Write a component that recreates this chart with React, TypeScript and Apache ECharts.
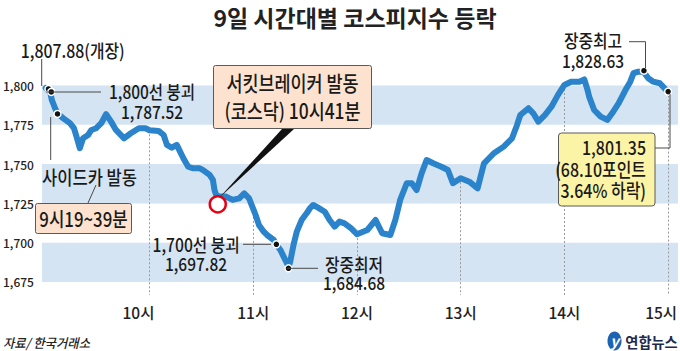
import React, { useEffect, useRef } from 'react';
import * as echarts from 'echarts';

// minutes after 09:00
const timeMinutes = [
  0, 2.6, 3.5, 5.4, 6.8, 10.2, 14.0, 16.3, 17.8, 19.7, 21.6, 24.5, 26.4, 29.2, 32.1, 34.9, 37.8, 40.6, 45.3, 49.2,
  53.9, 57.7, 60, 65.3, 68.2, 70.1, 72.9, 75.8, 77.7, 79.6, 82.4, 85.3, 89.1, 91.0, 94.8, 96.7, 97.6, 98.6, 100.5, 104.3,
  108.1, 111.9, 114.8, 117.6, 120, 121.4, 123.3, 126.1, 128.0, 131.9, 133.4, 135.7, 137.6, 139.5, 140.4, 141.4, 143.3, 145.2, 148.0, 150.9,
  152.8, 154.7, 157.5, 161.4, 164.2, 167.1, 169.9, 172.8, 176.5, 180, 186.0, 190.8, 194.6, 199.3, 202.2, 205.0, 208.8, 211.7, 214.5, 217.4,
  220.3, 224.1, 228.8, 232.6, 235.5, 240, 245.0, 249.8, 253.5, 259.2, 264.9, 269.7, 272.6, 274.5, 279.2, 282.0, 284.9, 288.7, 292.5, 296.3,
  300, 303.9, 308.7, 311.5, 313.4, 314.3, 317.2, 321.0, 324.8, 327.6, 331.4, 335.3, 338.1, 340.0, 342.8, 345.7, 348.5, 351.4, 355.2, 358.0, 360,
];
const indexValues = [
  1798.4, 1795.7, 1790.8, 1785.5, 1782.2, 1779.1, 1776.0, 1772.8, 1767.4, 1760.1, 1766.4, 1768.5, 1771.7, 1772.8, 1776.0, 1781.7, 1777.0, 1771.7, 1766.4, 1769.6,
  1772.8, 1772.8, 1771.5, 1771.1, 1768.5, 1762.2, 1760.4, 1762.2, 1757.9, 1753.7, 1748.3, 1747.3, 1747.3, 1746.2, 1743.1, 1739.9, 1733.5, 1730.3, 1729.3, 1729.3,
  1727.2, 1728.2, 1731.4, 1728.2, 1721.5, 1717.6, 1711.3, 1707.0, 1704.9, 1701.7, 1699.0, 1695.4, 1691.1, 1686.9, 1684.5, 1687.9, 1698.5, 1707.0, 1714.4, 1718.7,
  1721.9, 1724.0, 1722.3, 1719.7, 1714.4, 1710.2, 1713.4, 1712.3, 1709.2, 1705.4, 1708.1, 1714.4, 1706.0, 1704.9, 1714.4, 1727.2, 1737.8, 1737.8, 1733.5, 1744.1,
  1752.6, 1750.5, 1748.3, 1746.2, 1737.8, 1741.0, 1738.8, 1734.6, 1750.5, 1756.9, 1761.1, 1766.4, 1774.9, 1781.2, 1785.5, 1782.3, 1777.0, 1781.2, 1786.5, 1794.0,
  1800.3, 1802.4, 1802.4, 1803.8, 1797.1, 1792.9, 1784.4, 1780.2, 1778.1, 1782.3, 1788.7, 1797.1, 1802.4, 1807.8, 1808.8, 1808.8, 1804.6, 1802.4, 1801.4, 1798.2, 1796.1,
];
const hourTicks = [60, 120, 180, 240, 300, 360];
const hourLabels = ['10시', '11시', '12시', '13시', '14시', '15시'];
const yLabelTicks = [1675, 1700, 1725, 1750, 1775, 1800];
const bandRanges = [[1675, 1700], [1725, 1750], [1775, 1800]];
const keyPointTimes = [1.6, 3.2, 6.8, 133.4, 140.4, 346, 360];
const keyPointValues = [1797.8, 1795.9, 1781.9, 1699.0, 1683.7, 1809.4, 1796.1];
const breakerTime = 99.5;
const breakerValue = 1724.4;
const dropBottom = 1666.7;

const FONT = "'Noto Sans CJK KR', 'Noto Sans', sans-serif";
const INK = '#1a1a1a';
const LEAD = '#4a4a4a';
const W = 500;

function txt(text: string, x: number, y: number, o: any = {}) {
  const align = o.align || 'center';
  return {
    type: 'text',
    x,
    y,
    scaleX: o.sx ?? 0.88,
    z: 100,
    style: {
      text,
      fill: o.fill || INK,
      fontSize: o.fs ?? 18,
      fontFamily: o.ff || FONT,
      fontWeight: o.fw || W,
      fontStyle: o.fst || 'normal',
      align,
      textAlign: align,
      verticalAlign: 'middle',
      textVerticalAlign: 'middle',
    },
  };
}
function seg(points: number[][]) {
  return {
    type: 'polyline',
    z: 99,
    shape: { points },
    style: { stroke: LEAD, lineWidth: 1, fill: null },
  };
}
function box(x: number, y: number, w: number, h: number, fill: string, r = 2) {
  return {
    type: 'rect',
    z: 98,
    shape: { x, y, width: w, height: h, r },
    style: { fill, stroke: '#5a5a5a', lineWidth: 1 },
  };
}

export default function App() {
  const ref = useRef<HTMLDivElement>(null);
  useEffect(() => {
    document.body.style.margin = '0';
    if (!ref.current) return;
    const chart = echarts.init(ref.current, null, { renderer: 'svg' });
    const seriesData = timeMinutes.map((t, i) => [t, indexValues[i]]);
    const valueAt = (t: number) => indexValues[timeMinutes.indexOf(t)];
    const PEACH = '#fde3cf';
    const YELLOW = '#fbf3a6';

    chart.setOption({
      animation: false,
      backgroundColor: '#ffffff',
      title: {
        text: '9일 시간대별 코스피지수 등락',
        left: 350,
        textAlign: 'center',
        top: 0,
        textStyle: { fontSize: 23, fontWeight: 'bold', fontFamily: FONT, color: '#222' },
      },
      grid: { left: 35, right: 0, top: 38.3, bottom: 29.7, containLabel: false },
      xAxis: {
        type: 'value',
        min: -2.2,
        max: 365.7,
        axisLine: { show: false },
        axisTick: { show: false },
        splitLine: { show: false },
        axisLabel: {
          customValues: hourTicks,
          margin: -17,
          fontSize: 15.5,
          fontWeight: W,
          fontFamily: FONT,
          color: '#222',
          formatter: (v: number) => {
            const i = hourTicks.indexOf(v);
            if (i < 0) return '';
            if (v === 60) return '{a|' + hourLabels[i] + '}';
            if (v === 360) return '{b|' + hourLabels[i] + '}';
            return hourLabels[i];
          },
          rich: {
            a: { fontSize: 15.5, fontWeight: W, fontFamily: FONT, color: '#222', padding: [0, 22, 0, 0] },
            b: { fontSize: 15.5, fontWeight: W, fontFamily: FONT, color: '#222', padding: [0, 14, 0, 0] },
          },
        },
      },
      yAxis: {
        type: 'value',
        min: 1650,
        max: 1830,
        interval: 25,
        axisLine: { show: false },
        axisTick: { show: false },
        splitLine: { show: false },
        axisLabel: {
          margin: 8,
          fontSize: 12,
          fontWeight: W,
          fontFamily: FONT,
          color: '#222',
          formatter: (v: number) => (yLabelTicks.indexOf(v) >= 0 ? v.toLocaleString('en-US') : ''),
        },
      },
      series: [
        {
          type: 'line',
          z: 3,
          data: seriesData,
          showSymbol: false,
          symbol: 'none',
          silent: true,
          lineStyle: { color: '#2a83cb', width: 6, join: 'round', cap: 'round' },
          markArea: {
            silent: true,
            z: 1,
            itemStyle: { color: '#d4e4f2' },
            data: bandRanges.map((r) => [{ yAxis: r[0] }, { yAxis: r[1] }]),
          },
          markLine: {
            silent: true,
            z: 2,
            symbol: ['none', 'none'],
            label: { show: false },
            lineStyle: { color: '#9a9a9a', width: 1, type: [2, 2] },
            data: hourTicks.map((h) => [{ coord: [h, valueAt(h)] }, { coord: [h, dropBottom] }]),
          },
          markPoint: {
            silent: true,
            z: 6,
            label: { show: false },
            data: [
              ...keyPointTimes.map((t, i) => ({
                coord: [t, keyPointValues[i]],
                symbol: 'circle',
                symbolSize: 7,
                itemStyle: { color: '#111', borderColor: '#fff', borderWidth: 1.5 },
              })),
              {
                coord: [breakerTime, breakerValue],
                symbol: 'circle',
                symbolSize: 16,
                itemStyle: { color: '#fff', borderColor: '#e60012', borderWidth: 2.5 },
              },
            ],
          },
        },
      ],
      graphic: [
        // open
        txt('1,807.88(개장)', 20.7, 50, { align: 'left', sx: 0.88 }),
        seg([[41.7, 59], [41.7, 86]]),
        // 1800 break
        seg([[46, 92], [101, 92]]),
        txt('1,800선 붕괴', 152, 91, { sx: 0.86 }),
        txt('1,787.52', 152, 111, { sx: 0.86 }),
        // sidecar
        seg([[50.7, 117], [50.7, 160]]),
        txt('사이드카 발동', 89.5, 176.5, { fs: 19, sx: 0.87 }),
        seg([[96, 185], [88, 203]]),
        box(35.5, 203.5, 96, 30, PEACH),
        txt('9시19~39분', 83.5, 218.5, { fs: 20, sx: 0.84 }),
        // circuit breaker
        box(213.5, 65.5, 158, 63, PEACH),
        txt('서킷브레이커 발동', 292.5, 82, { fs: 21, sx: 0.83 }),
        txt('(코스닥) 10시41분', 292.5, 110, { fs: 21, sx: 0.83 }),
        {
          type: 'polygon',
          z: 97,
          shape: { points: [[219, 198], [282, 129], [294, 129]] },
          style: { fill: '#111' },
        },
        // 1700 break
        txt('1,700선 붕괴', 196, 244, { sx: 0.87 }),
        txt('1,697.82', 196, 263.5, { sx: 0.86 }),
        seg([[243, 244.3], [271, 244.3]]),
        // intraday low
        seg([[287, 268.3], [318, 268.3]]),
        txt('장중최저', 354, 264, { sx: 0.88 }),
        txt('1,684.68', 354, 282, { sx: 0.86 }),
        // intraday high
        txt('장중최고', 593, 40, { sx: 0.88 }),
        txt('1,828.63', 593, 60, { sx: 0.86 }),
        seg([[629, 41.7], [645.5, 41.7], [645.5, 68]]),
        // close
        box(558.5, 133, 96.5, 73, YELLOW, 3),
        txt('1,801.35', 646, 147, { align: 'right', fs: 19, sx: 0.84 }),
        txt('(68.10포인트', 646, 169, { align: 'right', fs: 19, sx: 0.84 }),
        txt('3.64% 하락)', 646, 190, { align: 'right', fs: 19, sx: 0.84 }),
        seg([[655, 148], [670, 148], [670, 94]]),
        // source
        txt('자료/ 한국거래소', 3, 342, { align: 'left', fs: 13, sx: 0.95, fst: 'italic', fill: '#222' }),
        // logo
        {
          type: 'ellipse',
          z: 100,
          shape: { cx: 614.5, cy: 341, rx: 7, ry: 9.5 },
          style: { fill: '#1d63b4' },
        },
        txt('y', 614.5, 340, { fs: 15, sx: 1, fw: 'bold', fst: 'italic', fill: '#ffffff' }),
        txt('연합뉴스', 651.5, 341, { fs: 15, sx: 0.95, fw: 'bold', fill: '#1d2a4f' }),
      ],
    });
    return () => chart.dispose();
  }, []);
  return <div ref={ref} style={{ width: 680, height: 351 }} />;
}
